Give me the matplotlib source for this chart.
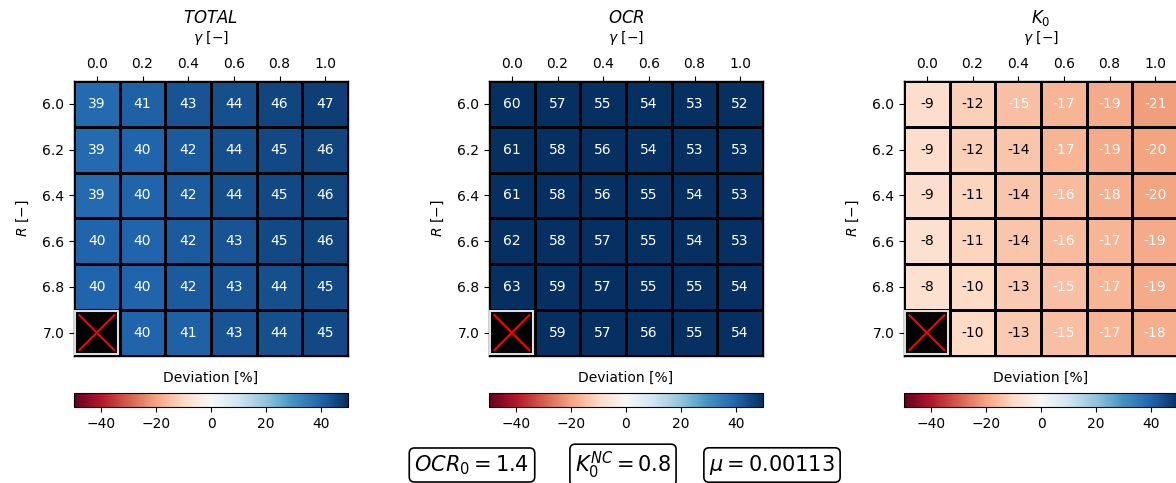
import numpy as np
import matplotlib
matplotlib.use("Agg")
import matplotlib.pyplot as plt
from matplotlib.patches import Rectangle

gamma = [0.0, 0.2, 0.4, 0.6, 0.8, 1.0]
R = [6.0, 6.2, 6.4, 6.6, 6.8, 7.0]

nan = np.nan
total_dev = [
    [39, 41, 43, 44, 46, 47],
    [39, 40, 42, 44, 45, 46],
    [39, 40, 42, 44, 45, 46],
    [40, 40, 42, 43, 45, 46],
    [40, 40, 42, 43, 44, 45],
    [nan, 40, 41, 43, 44, 45],
]
ocr_dev = [
    [60, 57, 55, 54, 53, 52],
    [61, 58, 56, 54, 53, 53],
    [61, 58, 56, 55, 54, 53],
    [62, 58, 57, 55, 54, 53],
    [63, 59, 57, 55, 55, 54],
    [nan, 59, 57, 56, 55, 54],
]
k0_dev = [
    [-9, -12, -15, -17, -19, -21],
    [-9, -12, -14, -17, -19, -20],
    [-9, -11, -14, -16, -18, -20],
    [-8, -11, -14, -16, -17, -19],
    [-8, -10, -13, -15, -17, -19],
    [nan, -10, -13, -15, -17, -18],
]

panels = [("$TOTAL$", total_dev), ("$OCR$", ocr_dev), ("$K_0$", k0_dev)]
params = ["$OCR_0 = 1.4$", "$K_0^{NC} = 0.8$", "$\\mu = 0.00113$"]

W, H = 1176, 483
fig = plt.figure(figsize=(W / 100, H / 100), dpi=100)

vmin, vmax = -50, 50
cmap = plt.get_cmap("RdBu")

lefts = [74, 489, 904]
ax_w, ax_h = 274, 274.5
ax_bottom = H - 355.5
cb_bottom = H - 407
cb_h = 14

for left, (title, values) in zip(lefts, panels):
    data = np.array(values, dtype=float)
    ax = fig.add_axes([left / W, ax_bottom / H, ax_w / W, ax_h / H])
    masked = np.ma.masked_invalid(data)
    mesh = ax.pcolormesh(np.arange(len(gamma) + 1), np.arange(len(R) + 1), masked,
                         cmap=cmap, vmin=vmin, vmax=vmax,
                         edgecolors="k", linewidth=0.8)
    ax.set_xlim(0, len(gamma))
    ax.set_ylim(len(R), 0)
    ax.xaxis.tick_top()
    ax.xaxis.set_label_position("top")
    ax.set_xticks(np.arange(len(gamma)) + 0.5)
    ax.set_xticklabels([f"{g:.1f}" for g in gamma], fontsize=10)
    ax.set_yticks(np.arange(len(R)) + 0.5)
    ax.set_yticklabels([f"{r:.1f}" for r in R], fontsize=10)
    ax.set_xlabel("$\\gamma$ [$-$]", fontsize=10, labelpad=11)
    ax.set_ylabel("$R$ [$-$]", fontsize=10, labelpad=8)
    ax.set_title(title, fontsize=12, pad=4)
    for s in ax.spines.values():
        s.set_linewidth(1.0)

    for i in range(len(R)):
        for j in range(len(gamma)):
            v = data[i, j]
            if np.isnan(v):
                ax.add_patch(Rectangle((j + 0.03, i + 0.03), 0.94, 0.94,
                                       facecolor="black", edgecolor="#dddddd",
                                       linewidth=1.5, zorder=3))
                ax.plot([j + 0.12, j + 0.88], [i + 0.12, i + 0.88], color="red",
                        lw=1.5, zorder=4)
                ax.plot([j + 0.12, j + 0.88], [i + 0.88, i + 0.12], color="red",
                        lw=1.5, zorder=4)
                continue
            color = "white" if abs(v) >= 15 else "black"
            ax.text(j + 0.5, i + 0.5, f"{v:.0f}", ha="center", va="center",
                    fontsize=10, color=color)

    cax = fig.add_axes([left / W, cb_bottom / H, ax_w / W, cb_h / H])
    cb = fig.colorbar(mesh, cax=cax, orientation="horizontal")
    cb.set_ticks([-40, -20, 0, 20, 40])
    cb.ax.tick_params(labelsize=10)
    cb.ax.xaxis.set_label_position("top")
    cb.set_label("Deviation [%]", fontsize=10, labelpad=8)

for xc, txt in zip([472, 623, 772], params):
    fig.text(xc / W, (H - 465) / H, txt, ha="center", va="center", fontsize=15,
             bbox=dict(boxstyle="round,pad=0.25", facecolor="white",
                       edgecolor="black", linewidth=1.2))

fig.savefig("out.png", dpi=100)
